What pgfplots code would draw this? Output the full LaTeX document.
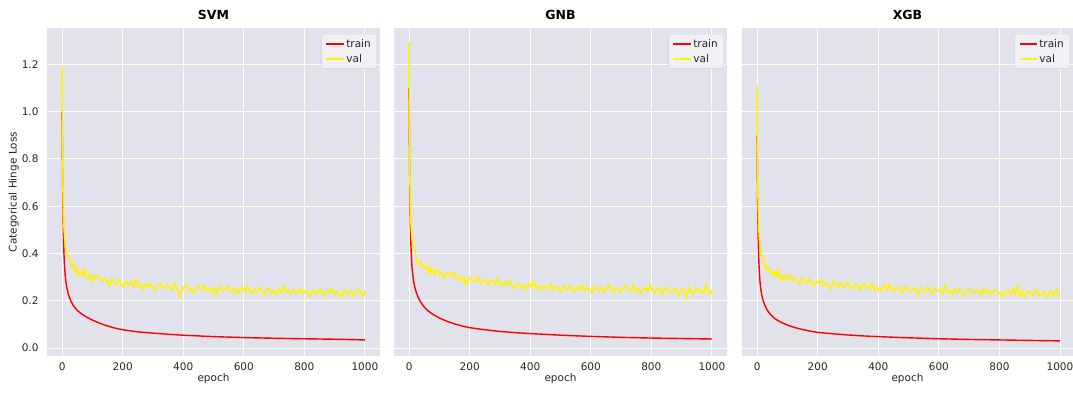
\documentclass[border=0pt]{standalone}
\usepackage{fontspec}
\setmainfont{DejaVu Sans}
\usepackage{pgfplots}
\pgfplotsset{compat=1.18}
\usepackage{pgfplotstable}
\definecolor{bg}{RGB}{226,226,236}
\definecolor{tl}{RGB}{38,38,38}

\pgfplotstableread{
epoch svm gnb xgb
0 1.000 1.100 0.900
1 0.800 0.860 0.700
2 0.660 0.700 0.580
3 0.560 0.600 0.490
4 0.490 0.520 0.430
5 0.440 0.470 0.390
6 0.400 0.430 0.355
8 0.345 0.370 0.305
10 0.310 0.335 0.272
12 0.285 0.310 0.250
15 0.258 0.280 0.225
20 0.230 0.250 0.199
25 0.211 0.230 0.182
30 0.196 0.214 0.168
35 0.184 0.201 0.157
40 0.174 0.190 0.148
50 0.159 0.173 0.134
60 0.148 0.160 0.123
70 0.139 0.150 0.115
80 0.131 0.141 0.108
100 0.118 0.127 0.097
125 0.104 0.113 0.086
150 0.093 0.102 0.078
175 0.084 0.093 0.071
200 0.077 0.086 0.066
250 0.068 0.077 0.060
300 0.063 0.070 0.055
350 0.058 0.065 0.051
400 0.054 0.061 0.048
500 0.048 0.054 0.043
600 0.044 0.049 0.039
700 0.041 0.045 0.036
800 0.039 0.042 0.034
900 0.037 0.040 0.032
1000 0.034 0.038 0.030
}\traintable

\pgfplotstableread{
epoch svm gnb xgb
0 1.190 1.294 1.110
1 0.920 0.980 0.880
2 0.760 0.800 0.720
3 0.660 0.690 0.630
4 0.590 0.610 0.565
5 0.550 0.565 0.525
6 0.515 0.530 0.495
7 0.490 0.505 0.472
8 0.472 0.487 0.455
9 0.456 0.470 0.441
10 0.450 0.470 0.439
15 0.397 0.418 0.390
20 0.391 0.409 0.386
25 0.381 0.372 0.357
30 0.348 0.351 0.331
35 0.342 0.364 0.344
40 0.356 0.366 0.340
45 0.322 0.344 0.316
50 0.331 0.334 0.322
55 0.308 0.346 0.303
60 0.318 0.333 0.323
65 0.326 0.318 0.306
70 0.305 0.345 0.329
75 0.331 0.320 0.297
80 0.303 0.327 0.306
85 0.293 0.310 0.288
90 0.309 0.327 0.306
95 0.310 0.332 0.298
100 0.282 0.310 0.290
108 0.300 0.315 0.309
116 0.308 0.294 0.282
124 0.288 0.317 0.296
132 0.281 0.318 0.287
140 0.295 0.303 0.269
148 0.287 0.319 0.295
156 0.262 0.294 0.287
164 0.291 0.301 0.274
172 0.282 0.283 0.293
180 0.268 0.302 0.274
188 0.290 0.267 0.263
196 0.268 0.294 0.282
204 0.257 0.298 0.274
212 0.281 0.280 0.289
220 0.267 0.286 0.263
228 0.274 0.301 0.277
236 0.257 0.273 0.265
244 0.291 0.278 0.249
252 0.260 0.290 0.280
260 0.268 0.265 0.270
268 0.249 0.281 0.260
276 0.272 0.289 0.275
284 0.259 0.268 0.254
292 0.273 0.295 0.268
300 0.253 0.272 0.281
308 0.244 0.262 0.259
316 0.265 0.279 0.249
324 0.274 0.266 0.269
332 0.257 0.284 0.263
340 0.252 0.267 0.248
348 0.267 0.251 0.266
356 0.257 0.272 0.272
364 0.245 0.274 0.251
372 0.274 0.255 0.254
380 0.250 0.265 0.274
388 0.215 0.249 0.245
396 0.243 0.272 0.258
404 0.261 0.257 0.239
412 0.266 0.282 0.252
420 0.245 0.252 0.263
428 0.251 0.262 0.244
436 0.233 0.246 0.273
444 0.258 0.265 0.246
452 0.261 0.258 0.238
460 0.248 0.250 0.255
468 0.265 0.271 0.257
476 0.243 0.245 0.230
484 0.252 0.260 0.249
492 0.236 0.252 0.260
500 0.257 0.236 0.241
508 0.224 0.263 0.238
516 0.253 0.256 0.253
524 0.258 0.244 0.247
532 0.241 0.265 0.225
540 0.248 0.248 0.255
548 0.263 0.237 0.249
556 0.236 0.258 0.236
564 0.241 0.251 0.260
572 0.254 0.266 0.240
580 0.230 0.241 0.230
588 0.247 0.256 0.254
596 0.256 0.245 0.241
604 0.236 0.230 0.248
612 0.263 0.262 0.232
620 0.241 0.251 0.266
628 0.232 0.242 0.235
636 0.250 0.258 0.244
644 0.237 0.238 0.225
652 0.256 0.253 0.248
660 0.241 0.266 0.236
668 0.226 0.245 0.251
676 0.247 0.235 0.230
684 0.250 0.256 0.222
692 0.232 0.251 0.244
700 0.243 0.236 0.252
708 0.227 0.255 0.236
716 0.251 0.261 0.231
724 0.237 0.241 0.246
732 0.263 0.245 0.237
740 0.233 0.265 0.225
748 0.243 0.237 0.254
756 0.227 0.251 0.231
764 0.247 0.232 0.240
772 0.240 0.246 0.225
780 0.232 0.256 0.242
788 0.253 0.238 0.248
796 0.228 0.267 0.227
804 0.243 0.241 0.234
812 0.235 0.233 0.215
820 0.219 0.250 0.240
828 0.247 0.253 0.244
836 0.240 0.226 0.230
844 0.228 0.246 0.248
852 0.249 0.257 0.226
860 0.232 0.238 0.262
868 0.222 0.234 0.219
876 0.242 0.250 0.240
884 0.235 0.244 0.214
892 0.251 0.222 0.236
900 0.226 0.252 0.242
908 0.240 0.246 0.225
916 0.229 0.212 0.231
924 0.214 0.258 0.247
932 0.246 0.239 0.220
940 0.236 0.228 0.226
948 0.226 0.253 0.238
956 0.242 0.240 0.214
964 0.222 0.247 0.232
972 0.237 0.231 0.241
980 0.250 0.265 0.220
988 0.229 0.234 0.248
996 0.219 0.243 0.226
1000 0.240 0.225 0.217
}\valtable

\pgfplotsset{
  panel/.style={
    scale only axis, width=333pt, height=328pt,
    xmin=-50, xmax=1050, ymin=-0.034, ymax=1.354,
    axis background/.style={fill=bg},
    axis line style={draw=none},
    grid=major, major grid style={white, line width=0.9pt},
    major tick length=0pt, tick style={draw=none},
    xtick={0,200,400,600,800,1000},
    ytick={0,0.2,0.4,0.6,0.8,1.0,1.2},
    /pgf/number format/assume math mode=true,
    /pgf/number format/1000 sep={},
    xticklabel style={/pgf/number format/1000 sep={}, yshift=-3pt},
    yticklabel style={/pgf/number format/fixed, /pgf/number format/fixed zerofill,
      /pgf/number format/precision=1, xshift=-5pt},
    ticklabel style={font=\fontsize{10.5}{12}\selectfont, text=tl},
    xlabel={epoch},
    xlabel style={font=\fontsize{10.5}{12}\selectfont, text=tl, yshift=4pt},
    title style={font=\bfseries\fontsize{12.5}{14}\selectfont, text=black, yshift=-1pt},
    legend style={at={(1,1)}, anchor=north east, xshift=-3pt, yshift=-6pt,
      fill=bg!50!white, draw=black!18, rounded corners=2pt,
      font=\fontsize{10.5}{12}\selectfont, text=tl, inner xsep=4pt, inner ysep=3pt,
      row sep=1.5pt},
    legend cell align=left,
  },
  tr/.style={draw=red, line width=1.4pt, no markers},
  vl/.style={draw=yellow, line width=1.6pt, no markers},
}

\begin{document}
\begin{tikzpicture}
\path[use as bounding box] (0,0) rectangle (1073pt,392pt);
\begin{axis}[panel, at={(47pt,36pt)}, anchor=south west, title={SVM},
  ylabel={Categorical Hinge Loss},
  ylabel style={font=\fontsize{10.5}{12}\selectfont, text=tl, yshift=-4pt}]
\addplot[tr] table[x=epoch, y=svm] {\traintable};
\addlegendentry{train}
\addplot[vl] table[x=epoch, y=svm] {\valtable};
\addlegendentry{val}
\end{axis}
\begin{axis}[panel, at={(394pt,36pt)}, anchor=south west, title={GNB},
  yticklabels={}]
\addplot[tr] table[x=epoch, y=gnb] {\traintable};
\addlegendentry{train}
\addplot[vl] table[x=epoch, y=gnb] {\valtable};
\addlegendentry{val}
\end{axis}
\begin{axis}[panel, at={(742pt,36pt)}, anchor=south west, title={XGB},
  width=331pt, xmax=1043, yticklabels={}]
\addplot[tr] table[x=epoch, y=xgb] {\traintable};
\addlegendentry{train}
\addplot[vl] table[x=epoch, y=xgb] {\valtable};
\addlegendentry{val}
\end{axis}
\end{tikzpicture}
\end{document}
